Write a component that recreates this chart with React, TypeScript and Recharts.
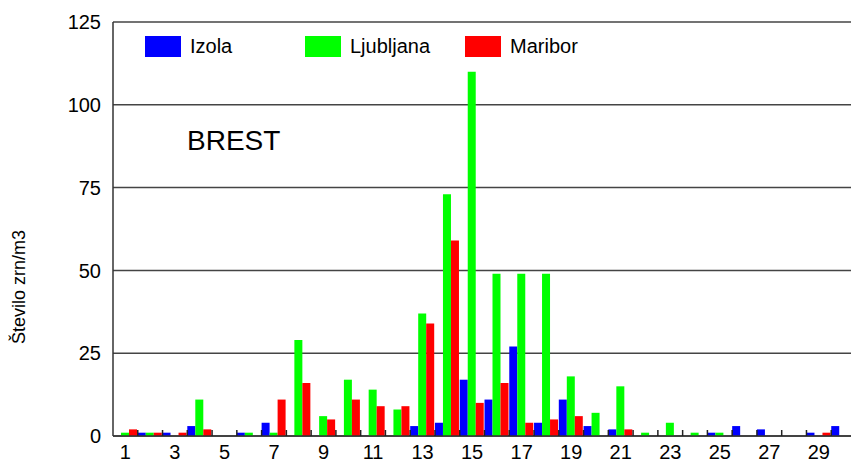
import { BarChart, Bar, XAxis, YAxis, CartesianGrid, Legend } from 'recharts';

const days = Array.from({ length: 30 }, (_, i) => String(i + 1));
const izola = [0, 1, 1, 3, 0, 1, 4, 0, 0, 0, 0, 0, 3, 4, 17, 11, 27, 4, 11, 3, 2, 0, 0, 0, 1, 3, 2, 0, 1, 3];
const ljubljana = [1, 1, 0, 11, 0, 1, 1, 29, 6, 17, 14, 8, 37, 73, 110, 49, 49, 49, 18, 7, 15, 1, 4, 1, 1, 0, 0, 0, 0, 0];
const maribor = [2, 1, 1, 2, 0, 0, 11, 16, 5, 11, 9, 9, 34, 59, 10, 16, 4, 5, 6, 0, 2, 0, 0, 0, 0, 0, 0, 0, 1, 0];
const yTicks = [0, 25, 50, 75, 100, 125];

const data = days.map((day, i) => ({
	day,
	Izola: izola[i],
	Ljubljana: ljubljana[i],
	Maribor: maribor[i],
}));

const FONT = '"Liberation Sans", Arial, sans-serif';
const TICK_MARGIN = 9;

// every day gets a short inward tick on its left edge, only odd days get a label
const DayTick = (props: any) => {
	const { x, y, payload, index } = props;
	const half = payload && payload.offset ? payload.offset : 12.375;
	const axisY = y - TICK_MARGIN;
	return (
		<g>
			{index > 0 && (
				<line x1={x - half} x2={x - half} y1={axisY} y2={axisY - 6} stroke='#222' strokeWidth={1.5} />
			)}
			{index % 2 === 0 && (
				<text x={x} y={y} dy='0.71em' textAnchor='middle' fontSize={20} fontFamily={FONT} fill='#000'>
					{payload.value}
				</text>
			)}
		</g>
	);
};

const renderLegend = (props: any) => {
	const { payload } = props;
	return (
		<div style={{ display: 'flex', fontFamily: FONT, fontSize: 20, color: '#000' }}>
			{payload.map((entry: any) => (
				<div key={entry.value} style={{ width: 160, display: 'flex', alignItems: 'center' }}>
					<span style={{ display: 'inline-block', width: 36, height: 21, background: entry.color }} />
					<span style={{ marginLeft: 9 }}>{entry.value}</span>
				</div>
			))}
		</div>
	);
};

export default function App() {
	return (
		<div
			style={{
				position: 'absolute',
				left: 0,
				top: 0,
				width: 851,
				height: 463,
				overflow: 'hidden',
				background: '#fff',
			}}>
			<BarChart
				width={856}
				height={463}
				data={data}
				margin={{ top: 22, right: 0, bottom: 0, left: 0 }}
				barCategoryGap={0}
				barGap={0}>
				<CartesianGrid vertical={false} stroke='#444' strokeWidth={1.5} />
				<XAxis
					dataKey='day'
					interval={0}
					height={27}
					tickLine={false}
					tickSize={0}
					tickMargin={TICK_MARGIN}
					axisLine={{ stroke: '#333', strokeWidth: 1.5 }}
					tick={<DayTick />}
				/>
				<YAxis
					width={113}
					domain={[0, 125]}
					ticks={yTicks}
					tickLine={false}
					tickSize={0}
					tickMargin={12}
					axisLine={{ stroke: '#333', strokeWidth: 1.5 }}
					tick={{ fill: '#000', fontSize: 20, fontFamily: FONT }}
					label={{
						content: () => (
							<text
								x={19}
								y={287}
								transform='rotate(-90 19 287)'
								textAnchor='middle'
								dominantBaseline='central'
								fontSize={18}
								fontFamily={FONT}
								fill='#000'>
								Število zrn/m3
							</text>
						),
					}}
				/>
				<Legend
					content={renderLegend}
					verticalAlign='middle'
					align='center'
					layout='horizontal'
					wrapperStyle={{ position: 'absolute', top: 35, left: 145, width: 520 }}
				/>
				<Bar dataKey='Izola' fill='#0000ff' isAnimationActive={false} />
				<Bar dataKey='Ljubljana' fill='#00ff00' isAnimationActive={false} />
				<Bar dataKey='Maribor' fill='#ff0000' isAnimationActive={false} />
			</BarChart>
			<div
				style={{
					position: 'absolute',
					left: 187,
					top: 127,
					fontFamily: FONT,
					fontSize: 28,
					lineHeight: 1,
					color: '#000',
				}}>
				BREST
			</div>
		</div>
	);
}
